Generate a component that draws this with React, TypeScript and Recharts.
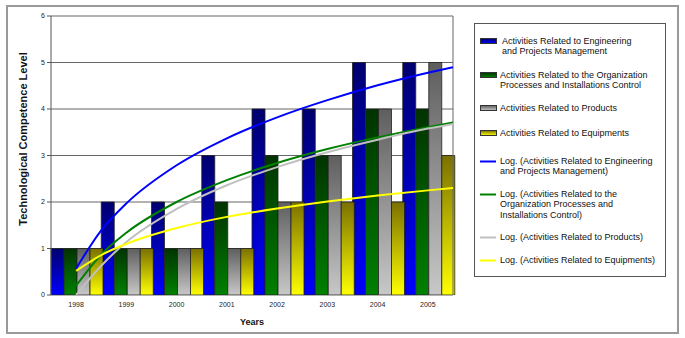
import React from "react";
import {
  ComposedChart,
  Bar,
  Line,
  XAxis,
  YAxis,
  CartesianGrid,
  ReferenceLine,
  Legend,
} from "recharts";

// years on the category axis
const years = ["1998", "1999", "2000", "2001", "2002", "2003", "2004", "2005"];

// bar values per series
const engineering = [1, 2, 2, 3, 4, 4, 5, 5];
const organization = [1, 1, 1, 2, 3, 3, 4, 4];
const products = [1, 1, 1, 1, 2, 3, 4, 5];
const equipments = [1, 1, 1, 1, 2, 2, 2, 3];

// log trendlines (x = year index, 1 = 1998)
const trendX = [1, 1.5, 2, 3, 4, 5, 6, 7, 8, 8.5];
const engineeringTrend = [0.57, 1.39, 1.97, 2.79, 3.37, 3.82, 4.19, 4.51, 4.78, 4.9];
const organizationTrend = [0.2, 0.87, 1.34, 2.0, 2.47, 2.84, 3.14, 3.39, 3.61, 3.71];
const productsTrend = [0.0, 0.63, 1.14, 1.85, 2.36, 2.75, 3.07, 3.34, 3.58, 3.68];
const equipmentsTrend = [0.52, 0.86, 1.1, 1.44, 1.68, 1.86, 2.01, 2.14, 2.25, 2.3];

const yTicks = [0, 1, 2, 3, 4, 5, 6];
const bandEdges = [0.5, 1.5, 2.5, 3.5, 4.5, 5.5, 6.5, 7.5, 8.5];

const seriesNames = [
  "Activities Related to Engineering and Projects Management",
  "Activities Related to the Organization Processes and Installations Control",
  "Activities Related to Products",
  "Activities Related to Equipments",
];

// legend text, broken the way the picture wraps it
const legendLines = [
  ["Activities Related to Engineering", "and Projects Management"],
  ["Activities Related to the Organization", "Processes and Installations Control"],
  ["Activities Related to Products"],
  ["Activities Related to Equipments"],
  ["Log. (Activities Related to Engineering", "and Projects Management)"],
  ["Log. (Activities Related to the", "Organization Processes and", "Installations Control)"],
  ["Log. (Activities Related to Products)"],
  ["Log. (Activities Related to Equipments)"],
];

const barData = years.map((year, i) => ({
  year,
  eng: engineering[i],
  org: organization[i],
  prod: products[i],
  equip: equipments[i],
}));

const trendData = trendX.map((x, i) => ({
  x,
  eng: engineeringTrend[i],
  org: organizationTrend[i],
  prod: productsTrend[i],
  equip: equipmentsTrend[i],
}));

const gradients = [
  { id: "gEng", top: "#00006e", bottom: "#0000ff" },
  { id: "gOrg", top: "#003300", bottom: "#008000" },
  { id: "gProd", top: "#5e5e5e", bottom: "#c8c8c8" },
  { id: "gEquip", top: "#7a7000", bottom: "#ffff00" },
];
const lineColors = ["#0000ff", "#008000", "#c0c0c0", "#ffff00"];
const keys = ["eng", "org", "prod", "equip"];

const FONT = "'Liberation Sans', Arial, sans-serif";

const YLabel = () => (
  <text
    transform="translate(23,139) rotate(-90)"
    textAnchor="middle"
    dominantBaseline="central"
    fontFamily={FONT}
    fontSize={11}
    fontWeight="bold"
    fill="#111"
  >
    Technological Competence Level
  </text>
);

const XLabel = () => (
  <text
    x={252}
    y={322}
    textAnchor="middle"
    dominantBaseline="central"
    fontFamily={FONT}
    fontSize={9}
    fontWeight="bold"
    fill="#111"
  >
    Years
  </text>
);

// top of each legend entry, inside the legend box
const entryTops = [12, 46, 79, 104, 132, 165, 208, 231];

const ChartLegend = () => (
  <div
    style={{
      position: "relative",
      width: 192,
      height: 254,
      border: "1px solid #555",
      boxSizing: "border-box",
      background: "#fff",
      fontFamily: FONT,
      fontSize: 9,
      color: "#111",
      lineHeight: "10.4px",
    }}
  >
    {legendLines.map((lines, i) => (
      <div
        key={i}
        style={{ position: "absolute", top: entryTops[i], left: 5, whiteSpace: "nowrap" }}
      >
        {i < 4 ? (
          <svg width={17} height={7} style={{ position: "absolute", left: 0, top: 2 }}>
            <rect
              x={0.5}
              y={0.5}
              width={16}
              height={5}
              fill={`url(#${gradients[i].id}L)`}
              stroke="#333"
            />
            <defs>
              <linearGradient id={`${gradients[i].id}L`} x1="0" y1="0" x2="0" y2="1">
                <stop offset="0%" stopColor={gradients[i].top} />
                <stop offset="100%" stopColor={gradients[i].bottom} />
              </linearGradient>
            </defs>
          </svg>
        ) : (
          <svg width={17} height={7} style={{ position: "absolute", left: 0, top: 2 }}>
            <line x1={0} y1={3.5} x2={16} y2={3.5} stroke={lineColors[i - 4]} strokeWidth={2} />
          </svg>
        )}
        <div style={{ marginLeft: i === 0 ? 22 : 20 }}>
          {lines.map((l, j) => (
            <div key={j}>{l}</div>
          ))}
        </div>
      </div>
    ))}
  </div>
);

export default function App() {
  return (
    <div style={{ position: "absolute", left: 0, top: 0, width: 685, height: 338, background: "#fff" }}>
      <div
        style={{
          position: "absolute",
          left: 6,
          top: 5,
          width: 673,
          height: 329,
          border: "2px solid #9a9a9a",
          boxSizing: "border-box",
        }}
      />
      <div style={{ position: "absolute", left: 0, top: 0 }}>
        <ComposedChart
          width={685}
          height={338}
          data={barData}
          margin={{ top: 16, right: 232, left: 0, bottom: 0 }}
          barCategoryGap={0}
          barGap={0}
        >
          <defs>
            {gradients.map((g) => (
              <linearGradient key={g.id} id={g.id} x1="0" y1="0" x2="0" y2="1">
                <stop offset="0%" stopColor={g.top} />
                <stop offset="100%" stopColor={g.bottom} />
              </linearGradient>
            ))}
          </defs>
          <CartesianGrid xAxisId="trend" vertical={false} stroke="#666" fill="#fff" />
          <XAxis
            xAxisId="trend"
            type="number"
            dataKey="x"
            domain={[0.5, 8.5]}
            ticks={bandEdges}
            allowDataOverflow
            height={0}
            tickSize={5}
            tickFormatter={() => ""}
            stroke="#555"
          />
          <XAxis
            xAxisId="cat"
            dataKey="year"
            height={43}
            tickLine={false}
            axisLine={false}
            tickSize={5}
            tickMargin={2}
            tick={{ fontSize: 7, fill: "#222", fontFamily: FONT }}
            interval={0}
            label={<XLabel />}
          />
          <YAxis
            domain={[0, 6]}
            ticks={yTicks}
            allowDataOverflow
            width={51}
            tickSize={4}
            stroke="#555"
            tick={{ fontSize: 7, fill: "#222", fontFamily: FONT }}
            label={<YLabel />}
          />
          <ReferenceLine xAxisId="trend" x={8.5} stroke="#666" />
          {keys.map((k, i) => (
            <Bar
              key={k}
              xAxisId="cat"
              dataKey={k}
              name={seriesNames[i]}
              fill={`url(#${gradients[i].id})`}
              stroke="#222"
              strokeWidth={0.8}
              isAnimationActive={false}
            />
          ))}
          {keys.map((k, i) => (
            <Line
              key={"t" + k}
              xAxisId="trend"
              data={trendData}
              dataKey={k}
              name={"Log. (" + seriesNames[i] + ")"}
              type="monotone"
              stroke={lineColors[i]}
              strokeWidth={2}
              dot={false}
              activeDot={false}
              isAnimationActive={false}
            />
          ))}
          <Legend
            layout="horizontal"
            align="center"
            verticalAlign="middle"
            wrapperStyle={{ position: "absolute", left: 474, top: 23, width: 192, height: 254 }}
            content={<ChartLegend />}
          />
        </ComposedChart>
      </div>
    </div>
  );
}
